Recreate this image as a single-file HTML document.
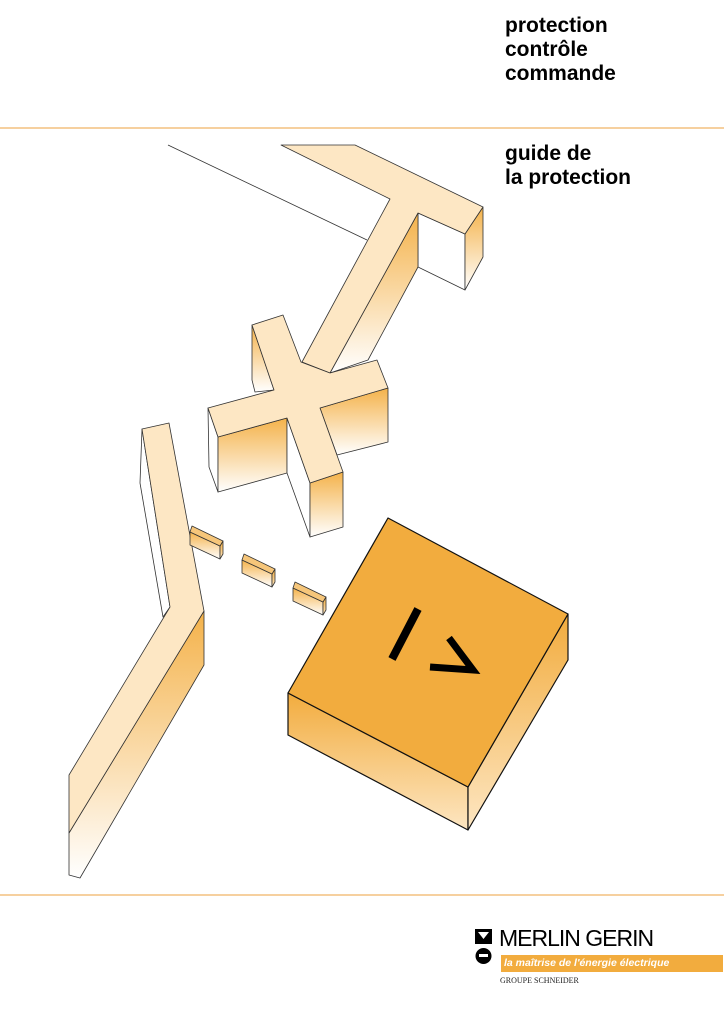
<!DOCTYPE html>
<html><head><meta charset="utf-8"><style>
body{margin:0;width:724px;height:1024px;background:#fff;position:relative;overflow:hidden;font-family:"Liberation Sans",sans-serif}
.t{position:absolute;left:505px;font-weight:bold;font-size:21px;line-height:24px;color:#000}
svg{position:absolute;left:0;top:0}
</style></head><body>
<svg width="724" height="1024" viewBox="0 0 724 1024">
<defs>
<linearGradient id="g" x1="0" y1="0" x2="0" y2="1"><stop offset="0" stop-color="#f4b24a"/><stop offset="1" stop-color="#fff"/></linearGradient>
<linearGradient id="g2" x1="0" y1="0" x2="0" y2="1"><stop offset="0" stop-color="#f2ac3e"/><stop offset="1" stop-color="#fde6c2"/></linearGradient>
</defs>
<line x1="0" y1="128" x2="724" y2="128" stroke="#f0b466" stroke-width="1.2"/>
<line x1="0" y1="895" x2="724" y2="895" stroke="#f0b466" stroke-width="1.2"/>
<g stroke="#333" stroke-width="0.8" stroke-linejoin="round">
<line x1="168" y1="145" x2="367" y2="240"/>
<polygon points="418,213 465,234 465,290 418,267" fill="#fff"/>
<polygon points="483,207 465,234 465,290 483,257" fill="url(#g)"/>
<polygon points="418,213 418,267 368,360 330,373" fill="url(#g)"/>
<polygon points="281,145 355,145 483,207 465,234 418,213 330,373 302,362 390,199" fill="#fde7c4"/>
<polygon points="252,325 274,390 255,392 252,380" fill="url(#g)"/>
<polygon points="208,408 218,437 218,492 209,467" fill="#fff"/>
<polygon points="218,437 287,418 287,473 218,492" fill="url(#g)"/>
<polygon points="320,408 388,388 388,442 337,455" fill="url(#g)"/>
<polygon points="287,418 310,483 310,537 287,473" fill="#fff"/>
<polygon points="310,483 343,472 343,527 310,537" fill="url(#g)"/>
<polygon points="252,325 283,315 301,362 330,373 377,360 388,388 320,408 343,472 310,483 287,418 218,437 208,408 274,390" fill="#fde7c4"/>
<polygon points="142,429 140,483 163,617 170,607" fill="#fff"/>
<polygon points="204,611 204,665 80,878 69,875 69,833" fill="url(#g)"/>
<polygon points="142,429 169,423 204,611 69,833 69,775 170,607" fill="#fde7c4"/>
<g id="b">
<polygon points="190,532 220,546 220,559 190,545" fill="url(#g)"/>
<polygon points="220,546 223,541 223,554 220,559" fill="url(#g2)"/>
<polygon points="192,526 223,541 220,546 190,532" fill="#f6c67a"/>
</g>
<use href="#b" transform="translate(52,28)"/>
<use href="#b" transform="translate(103,56)"/>
<g stroke="#111" stroke-width="1.2">
<polygon points="288,693 468,787 468,830 288,735" fill="url(#g2)"/>
<polygon points="468,787 568,614 568,660 468,830" fill="url(#g2)"/>
<polygon points="388,518 568,614 468,787 288,693" fill="#f2ac3e"/>
</g>
</g>
<line x1="418" y1="609" x2="392" y2="659" stroke="#000" stroke-width="8"/>
<polyline points="449,638 473,670 430,667" fill="none" stroke="#000" stroke-width="7" stroke-linejoin="miter"/>
<rect x="475" y="929" width="17" height="15" fill="#000"/>
<polygon points="478,932 489,932 483.5,939" fill="#fff"/>
<circle cx="483.5" cy="956" r="8" fill="#000"/>
<rect x="479" y="954" width="9" height="3" fill="#fff"/>
<rect x="501" y="955" width="222" height="17" fill="#f2ac3e"/>
</svg>
<div class="t" style="top:14px">protection<br>contrôle<br>commande</div>
<div class="t" style="top:142px">guide de<br>la protection</div>
<div style="position:absolute;left:499px;top:925px;font-size:23px;letter-spacing:-1px;color:#000">MERLIN GERIN</div>
<div style="position:absolute;left:504px;top:957px;font-size:10.5px;font-style:italic;font-weight:bold;color:#fff">la maîtrise de l'énergie électrique</div>
<div style="position:absolute;left:500px;top:976px;font-size:8px;font-family:'Liberation Serif',serif;color:#222">GROUPE SCHNEIDER</div>
</body></html>
